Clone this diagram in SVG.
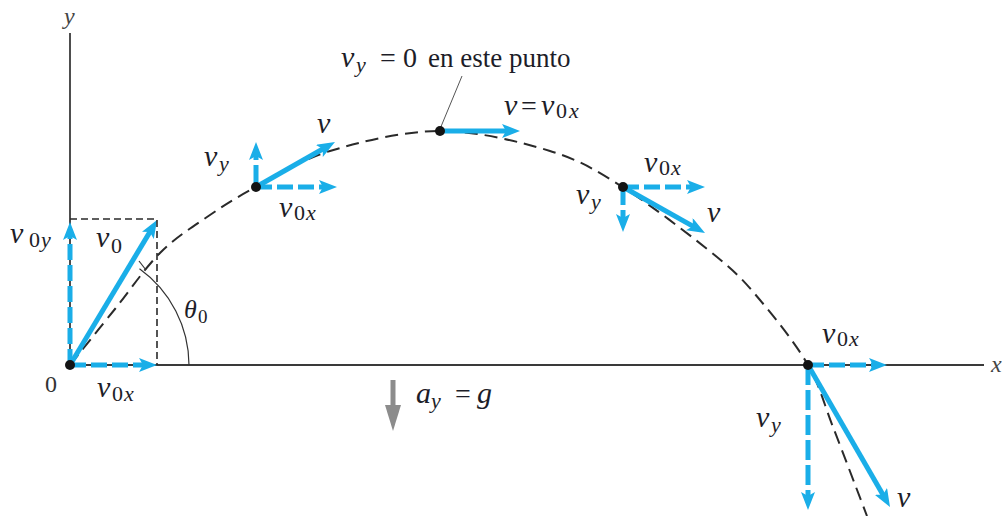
<svg xmlns="http://www.w3.org/2000/svg" width="1002" height="516" viewBox="0 0 1002 516">
<defs>
<marker id="ah" markerUnits="userSpaceOnUse" viewBox="0 0 18 14" markerWidth="18" markerHeight="14" refX="8" refY="7" orient="auto">
<path d="M0,0 L18,7 L0,14 L4,7 Z" fill="#1aaee8" stroke="none"/>
</marker>
<marker id="gh" markerUnits="userSpaceOnUse" viewBox="0 0 26 16" markerWidth="26" markerHeight="16" refX="2" refY="8" orient="auto">
<path d="M0,0 L26,8 L0,16 Z" fill="#8c8c8c" stroke="none"/>
</marker>
</defs>

<g id="axes" font-family="'Liberation Serif', serif" font-style="italic" font-size="24" fill="#444">
<line x1="70" y1="33" x2="70" y2="365" stroke="#3a3a3a" stroke-width="1.8"/>
<line x1="70" y1="365" x2="984" y2="365" stroke="#3a3a3a" stroke-width="1.8"/>
<text x="64" y="24">y</text>
<text x="991" y="372">x</text>
</g>

<g id="trajectory">
<path fill="none" stroke="#2a2a2a" stroke-width="2" stroke-dasharray="13 7" d="M70,365 C77.5,355.7 100,327.7 115,309 C130,290.3 144.7,268.3 160,253 C175.3,237.7 191,228 207,217 C223,206 235.5,198 256,187 C276.5,176 299.3,160.3 330,151 C360.7,141.7 403.3,131 440,131 C476.7,131 519.3,141.5 550,151 C580.7,160.5 596.2,170.3 624,188 C651.8,205.7 694.3,238.3 717,257 C739.7,275.7 744.8,282 760,300 C775.2,318 795.8,343.8 808,365 C820.2,386.2 823.2,401.8 833,427 C842.8,452.2 861.3,501.2 867,516"/>
</g>

<g id="connectors" fill="none" stroke="#1aaee8" stroke-width="5" marker-end="url(#ah)">
<line x1="70" y1="365" x2="70" y2="232" stroke-dasharray="16 5"/>
<line x1="70" y1="365" x2="147" y2="365" stroke-dasharray="16 5"/>
<line x1="70" y1="365" x2="151.9" y2="228.6"/>
<line x1="256" y1="187" x2="256" y2="152" stroke-dasharray="22 5"/>
<line x1="256" y1="187" x2="327" y2="187" stroke-dasharray="16 5"/>
<line x1="256" y1="187" x2="326.3" y2="147"/>
<line x1="440" y1="131" x2="510" y2="131"/>
<line x1="623" y1="187" x2="695" y2="187" stroke-dasharray="16 5"/>
<line x1="623" y1="187" x2="623" y2="222" stroke-dasharray="18 5"/>
<line x1="623" y1="187" x2="696.3" y2="228.1"/>
<line x1="808" y1="365" x2="877" y2="365" stroke-dasharray="16 5"/>
<line x1="808" y1="365" x2="808" y2="500" stroke-dasharray="20 5"/>
<line x1="808" y1="365" x2="885" y2="498.3"/>
</g>

<g id="point-origin" font-family="'Liberation Serif', serif" font-style="italic" font-size="30" fill="#1d1d28">
<path d="M70,219 H157 V365" fill="none" stroke="#2a2a2a" stroke-width="1.6" stroke-dasharray="7 4"/>
<path d="M189,365 A119,119 0 0 0 139.5,268.8" fill="none" stroke="#333" stroke-width="1.2"/>
<line x1="139" y1="261" x2="146" y2="270" stroke="#333" stroke-width="1.2"/>
<circle cx="70" cy="365" r="5" fill="#141414"/>
<text><tspan x="10" y="243">v</tspan><tspan font-size="22" font-style="normal" x="29" y="247">0</tspan><tspan font-size="22" x="41" y="247">y</tspan></text>
<text><tspan x="96" y="247">v</tspan><tspan font-size="22" font-style="normal" x="111" y="253">0</tspan></text>
<text><tspan x="97" y="397">v</tspan><tspan font-size="22" font-style="normal" x="112" y="401">0</tspan><tspan font-size="22" x="124" y="401">x</tspan></text>
<text font-style="normal" font-size="24" fill="#333" x="45" y="392">0</text>
<text font-size="26" x="184" y="318">θ<tspan font-style="normal" font-size="19" x="198" y="323">0</tspan></text>
</g>

<g id="point-2" font-family="'Liberation Serif', serif" font-style="italic" font-size="30" fill="#1d1d28">
<circle cx="256" cy="187" r="5" fill="#141414"/>
<text><tspan x="204" y="166">v</tspan><tspan font-size="22" x="219" y="171">y</tspan></text>
<text x="317" y="133">v</text>
<text><tspan x="279" y="217">v</tspan><tspan font-size="22" font-style="normal" x="294" y="220">0</tspan><tspan font-size="22" x="306" y="220">x</tspan></text>
</g>

<g id="apex" font-family="'Liberation Serif', serif" font-style="italic" font-size="30" fill="#1d1d28">
<line x1="440" y1="129" x2="462" y2="76" stroke="#555" stroke-width="1"/>
<circle cx="440" cy="131" r="5" fill="#141414"/>
<text><tspan x="341" y="67">v</tspan><tspan font-size="22" x="356" y="72">y</tspan><tspan font-style="normal" font-size="28" x="380" y="67">=</tspan><tspan font-style="normal" font-size="28" x="403" y="67">0</tspan><tspan font-style="normal" font-size="27" x="428" y="67">en este punto</tspan></text>
<text><tspan x="504" y="115">v</tspan><tspan font-style="normal" font-size="28" x="521" y="115">=</tspan><tspan x="541" y="115">v</tspan><tspan font-size="22" font-style="normal" x="556" y="118">0</tspan><tspan font-size="22" x="569" y="118">x</tspan></text>
</g>

<g id="point-4" font-family="'Liberation Serif', serif" font-style="italic" font-size="30" fill="#1d1d28">
<circle cx="623" cy="187" r="5" fill="#141414"/>
<text><tspan x="644" y="172">v</tspan><tspan font-size="22" font-style="normal" x="659" y="175">0</tspan><tspan font-size="22" x="671" y="175">x</tspan></text>
<text><tspan x="576" y="204">v</tspan><tspan font-size="22" x="591" y="209">y</tspan></text>
<text x="707" y="222">v</text>
</g>

<g id="point-5" font-family="'Liberation Serif', serif" font-style="italic" font-size="30" fill="#1d1d28">
<circle cx="808" cy="365" r="5" fill="#141414"/>
<text><tspan x="822" y="343">v</tspan><tspan font-size="22" font-style="normal" x="837" y="346">0</tspan><tspan font-size="22" x="849" y="346">x</tspan></text>
<text><tspan x="756" y="427">v</tspan><tspan font-size="22" x="771" y="432">y</tspan></text>
<text x="897" y="507">v</text>
</g>

<g id="gravity" font-family="'Liberation Serif', serif" font-style="italic" font-size="30" fill="#1d1d28">
<line x1="393" y1="380" x2="393" y2="407" stroke="#8c8c8c" stroke-width="5" marker-end="url(#gh)"/>
<text><tspan x="416" y="403">a</tspan><tspan font-size="22" x="431" y="408">y</tspan><tspan font-style="normal" font-size="28" x="455" y="403">=</tspan><tspan x="477" y="403">g</tspan></text>
</g>
</svg>
